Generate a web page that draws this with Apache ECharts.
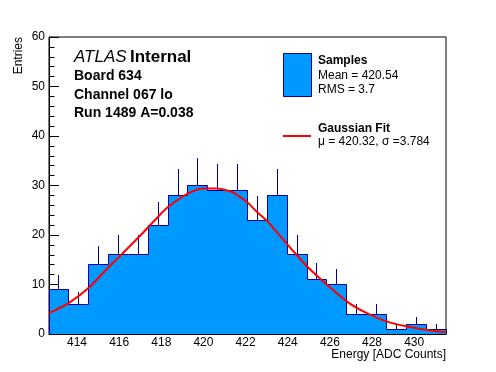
<!DOCTYPE html>
<html><head><meta charset="utf-8">
<script src="https://cdn.jsdelivr.net/npm/echarts@6/dist/echarts.min.js"></script>
<style>html,body{margin:0;padding:0;background:#fff}#c{width:496px;height:372px}</style>
</head><body><div id="c"></div>
<script>
// ---- data ----
const xMin = 412.67, xMax = 431.51;           // histogram range
const counts = [9, 6, 14, 16, 16, 22, 28, 30, 29, 29, 23, 28, 16, 11, 10, 4, 4, 1, 2, 1];
const errors = [3, 2.45, 3.74, 4, 4, 4.69, 5.29, 5.48, 5.39, 5.39, 4.8, 5.29, 4, 3.32, 3.16, 2, 2, 1, 1.41, 1];
const fitX = [412.67, 413.62, 414.57, 415.52, 416.0, 416.98, 417.85, 418.33, 419.28, 419.99, 420.63, 421.34, 421.73, 422.13, 422.53, 423.0, 423.98, 424.5, 424.93, 425.88, 426.83, 427.75, 428.71, 429.66, 430.61, 431.51];
const fitY = [4.2, 6.3, 9.4, 13.6, 15.6, 19.8, 23.7, 25.7, 28.4, 29.4, 29.4, 28.7, 27.7, 26.4, 24.7, 22.9, 18.1, 15.6, 13.6, 9.9, 6.5, 4.2, 2.5, 1.5, 0.8, 0.4];
const titleLines = ['Board 634', 'Channel 067 lo', 'Run 1489 A=0.038'];
const legendSamples = ['Samples', 'Mean = 420.54', 'RMS = 3.7'];
const legendFit = ['Gaussian Fit', 'μ = 420.32, σ =3.784'];
const xTitle = 'Energy [ADC Counts]';
const yTitle = 'Entries';

// ---- build ----
const nb = counts.length;
const bw = (xMax - xMin) / nb;
const histData = counts.map((c, i) => [xMin + i * bw, xMin + (i + 1) * bw, c, errors[i], i > 0 ? counts[i - 1] : 0]);
const fitData = fitX.map((x, i) => [x, fitY[i]]);

const FONT = 'Liberation Sans, Arial, Helvetica, sans-serif';
const FILL = '#0099ff', EDGE = '#000099';
const R = v => Math.round(v);
const H = v => Math.round(v - 0.5) + 0.5;

const chart = echarts.init(document.getElementById('c'), null, {renderer: 'canvas'});
chart.setOption({
  animation: false,
  backgroundColor: '#fff',
  grid: {left: 49, right: 50, top: 37, bottom: 38, show: true, borderColor: '#000', borderWidth: 1, containLabel: false},
  xAxis: [{
    type: 'value', min: xMin, max: xMax, splitNumber: 9, minInterval: 2, maxInterval: 2,
    axisLine: {show: true, onZero: false, lineStyle: {color: '#000', width: 1}},
    axisTick: {show: true, inside: true, length: 9, lineStyle: {color: '#000'}},
    axisLabel: {show: true, margin: 3, color: '#000', fontFamily: FONT, fontSize: 12, showMinLabel: false, showMaxLabel: false,
      formatter: v => (Math.abs(v - Math.round(v)) < 1e-6 ? String(Math.round(v)) : '')},
    splitLine: {show: false}
  }, {
    type: 'value', min: xMin, max: xMax, splitNumber: 19, minInterval: 1, maxInterval: 1, position: 'bottom',
    axisLine: {show: false, onZero: false},
    axisTick: {show: true, inside: true, length: 5, lineStyle: {color: '#000'}},
    axisLabel: {show: false},
    splitLine: {show: false}
  }],
  yAxis: {
    type: 'value', min: 0, max: 60, interval: 10,
    axisLine: {show: true, lineStyle: {color: '#000', width: 1}},
    axisTick: {show: true, inside: true, length: 10, lineStyle: {color: '#000'}},
    minorTick: {show: true, splitNumber: 5, length: 5.5, lineStyle: {color: '#000'}},
    axisLabel: {margin: 4, color: '#000', fontFamily: FONT, fontSize: 12},
    splitLine: {show: false}
  },
  series: [{
    type: 'custom',
    xAxisIndex: 0,
    data: histData,
    encode: {x: [0, 1], y: 2},
    renderItem: function (params, api) {
      const lo = api.value(0), hi = api.value(1), v = api.value(2), e = api.value(3), prev = api.value(4);
      const pLo = api.coord([lo, 0]);
      const pTop = api.coord([hi, v]);
      const pPrev = api.coord([lo, prev]);
      const pc = api.coord([(lo + hi) / 2, v]);
      const pe = api.coord([(lo + hi) / 2, v + e]);
      const x0 = R(pLo[0]), x1 = R(pTop[0]), yT = R(pTop[1]), yB = R(pLo[1]);
      return {
        type: 'group',
        children: [
          {type: 'rect', shape: {x: x0, y: yT, width: x1 - x0, height: yB - yT},
           style: {fill: FILL, stroke: null}},
          {type: 'polyline', shape: {points: [[H(pLo[0]), H(pPrev[1])], [H(pLo[0]), H(pTop[1])], [H(pTop[0]), H(pTop[1])]]},
           style: {stroke: EDGE, lineWidth: 1, fill: null}},
          {type: 'line', shape: {x1: H(pc[0]), y1: H(pc[1]), x2: H(pc[0]), y2: R(pe[1])},
           style: {stroke: EDGE, lineWidth: 1}}
        ]
      };
    },
    z: 2
  }, {
    type: 'line',
    xAxisIndex: 0,
    data: fitData,
    smooth: 0.3,
    showSymbol: false,
    symbol: 'none',
    lineStyle: {color: '#ff0000', width: 2},
    z: 3
  }],
  graphic: [
    {type: 'text', x: 74, y: 57, style: {
      text: '{a|ATLAS} {b|Internal}', verticalAlign: 'middle',
      rich: {a: {fontFamily: FONT, fontSize: 17, fontStyle: 'italic', fill: '#000'},
             b: {fontFamily: FONT, fontSize: 17, fontWeight: 'bold', fill: '#000'}}}},
    {type: 'text', x: 74, y: 76, style: {text: titleLines[0], font: 'bold 14px ' + FONT, fill: '#000', verticalAlign: 'middle'}},
    {type: 'text', x: 74, y: 95, style: {text: titleLines[1], font: 'bold 14px ' + FONT, fill: '#000', verticalAlign: 'middle'}},
    {type: 'text', x: 74, y: 113.5, style: {text: titleLines[2], font: 'bold 14px ' + FONT, fill: '#000', verticalAlign: 'middle'}},

    {type: 'rect', shape: {x: 283.5, y: 53.5, width: 28, height: 43}, style: {fill: FILL, stroke: EDGE, lineWidth: 1}},
    {type: 'text', x: 318, y: 61, style: {text: legendSamples[0], font: 'bold 12px ' + FONT, fill: '#000', verticalAlign: 'middle'}},
    {type: 'text', x: 318, y: 76, style: {text: legendSamples[1], font: '12px ' + FONT, fill: '#000', verticalAlign: 'middle'}},
    {type: 'text', x: 318, y: 89.5, style: {text: legendSamples[2], font: '12px ' + FONT, fill: '#000', verticalAlign: 'middle'}},
    {type: 'line', shape: {x1: 283, y1: 136, x2: 311, y2: 136}, style: {stroke: '#ff0000', lineWidth: 2}},
    {type: 'text', x: 318, y: 128.5, style: {text: legendFit[0], font: 'bold 12px ' + FONT, fill: '#000', verticalAlign: 'middle'}},
    {type: 'text', x: 318, y: 141.5, style: {text: legendFit[1], font: '12px ' + FONT, fill: '#000', verticalAlign: 'middle'}},

    {type: 'text', x: 19, y: 37, rotation: Math.PI / 2, style: {text: yTitle, font: '12px ' + FONT, fill: '#000', align: 'right', verticalAlign: 'middle'}},
    {type: 'text', x: 446, y: 355, style: {text: xTitle, font: '12px ' + FONT, fill: '#000', align: 'right', verticalAlign: 'middle'}}
  ]
});
</script>
</body></html>
